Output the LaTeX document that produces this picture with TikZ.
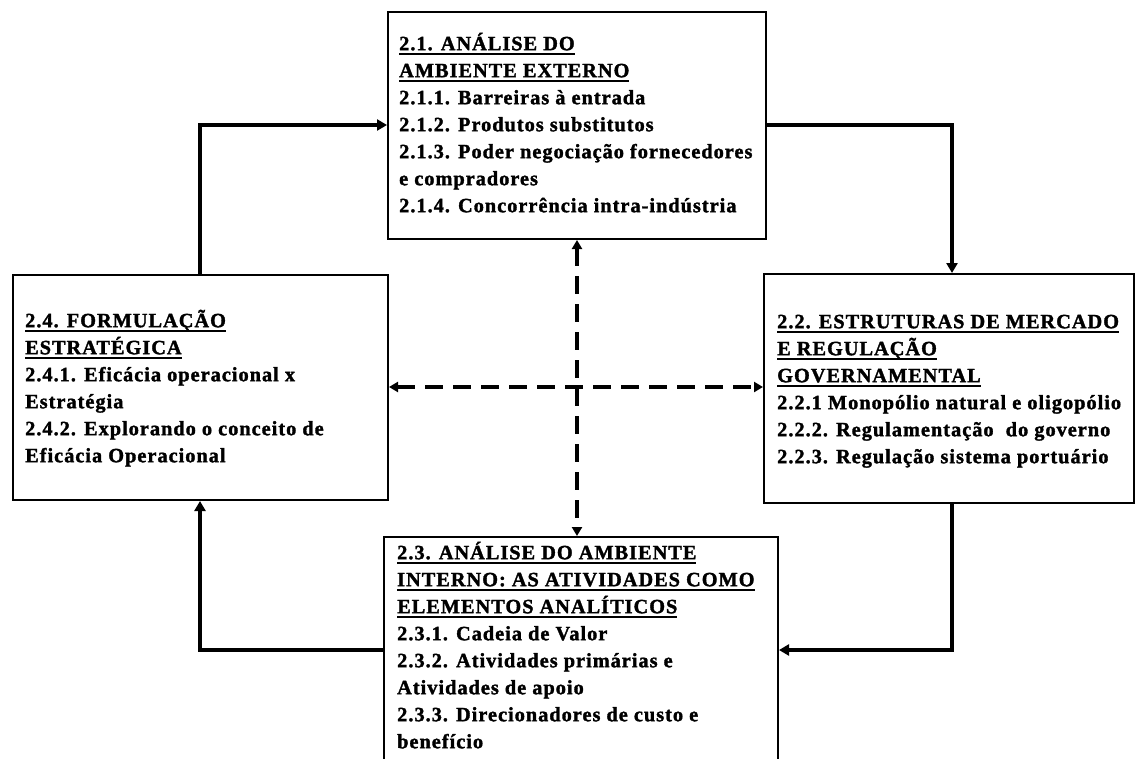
\documentclass[tikz,border=0pt]{standalone}
\usepackage{fontspec}
\setmainfont{Liberation Serif}[LetterSpace=5, BoldFeatures={FakeBold=1.6}]
\usetikzlibrary{arrows.meta}
% heading lines carry a solid bar under the whole line
\newcommand\ulbar[1]{\setbox0=\hbox{#1}\rlap{\rule[-4.5pt]{\wd0}{2pt}}\box0}
\begin{document}
\begin{tikzpicture}[x=1pt,y=-1pt,
  box/.style={draw, line width=2pt, inner sep=0pt, anchor=north west},
  txt/.style={anchor=north west, inner sep=0pt, align=left,
    font=\fontsize{20.3}{27}\selectfont\bfseries},
  conn/.style={line width=4pt, -{Triangle[length=10pt,width=11pt]}},
  dconn/.style={line width=3.5pt, dash pattern=on 18pt off 10pt,
    {Triangle[length=9pt,width=10pt]}-{Triangle[length=9pt,width=10pt]}}]
\useasboundingbox (0,0) rectangle (1135,758);
\clip (0,0) rectangle (1135,758);

% the four blocks
\node[box, minimum width=378pt, minimum height=227pt] (tbox) at (387,11) {};
\node[box, minimum width=375pt, minimum height=225pt] (lbox) at (12,274) {};
\node[box, minimum width=370pt, minimum height=229pt] (rbox) at (763,273) {};
\node[box, minimum width=394pt, minimum height=250pt] (bbox) at (383,536) {};

% block texts
\node[txt] (ttxt) at (399,28) {\rule{0pt}{22pt}\ulbar{2.1. ANÁLISE DO}\\
  \ulbar{AMBIENTE EXTERNO}\\
  2.1.1. Barreiras à entrada\\
  2.1.2. Produtos substitutos\\
  2.1.3. Poder negociação fornecedores\\
  e compradores\\
  2.1.4. Concorrência intra-indústria};
\node[txt] (ltxt) at (25,305) {\rule{0pt}{22pt}\ulbar{2.4. FORMULAÇÃO}\\
  \ulbar{ESTRATÉGICA}\\
  2.4.1. Eficácia operacional x\\
  Estratégia\\
  2.4.2. Explorando o conceito de\\
  Eficácia Operacional};
\node[txt] (rtxt) at (777,306) {\rule{0pt}{22pt}\ulbar{2.2. ESTRUTURAS DE MERCADO}\\
  \ulbar{E REGULAÇÃO}\\
  \ulbar{GOVERNAMENTAL}\\
  2.2.1 Monopólio natural e oligopólio\\
  2.2.2. Regulamentação\ \ do governo\\
  2.2.3. Regulação sistema portuário};
\node[txt] (btxt) at (397,537) {\rule{0pt}{22pt}\ulbar{2.3. ANÁLISE DO AMBIENTE}\\
  \ulbar{INTERNO: AS ATIVIDADES COMO}\\
  \ulbar{ELEMENTOS ANALÍTICOS}\\
  2.3.1. Cadeia de Valor\\
  2.3.2. Atividades primárias e\\
  Atividades de apoio\\
  2.3.3. Direcionadores de custo e\\
  benefício};

% corner points of the outer cycle and the centre crossing
\coordinate (k1) at (200,125);
\coordinate (k2) at (952,125);
\coordinate (k3) at (952,650);
\coordinate (k4) at (200,650);
\coordinate (m) at (577,387);

% outer cycle
\draw[conn] (lbox.north -| k1) |- (tbox.west |- k1);
\draw[conn] (tbox.east |- k2) -| (rbox.north -| k2);
\draw[conn] (rbox.south -| k3) |- (bbox.east |- k3);
\draw[conn] (bbox.west |- k4) -| (lbox.south -| k4);

% dashed cross links
\draw[dconn] (tbox.south -| m) -- (bbox.north -| m);
\draw[dconn] (lbox.east |- m) -- (rbox.west |- m);
\end{tikzpicture}
\end{document}
